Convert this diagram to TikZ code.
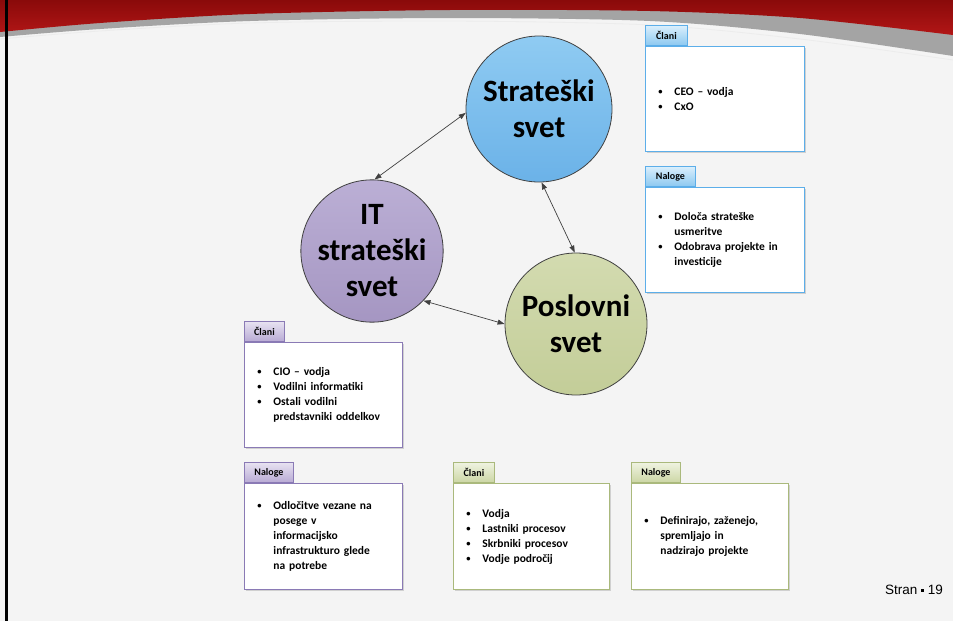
\documentclass[tikz,border=0pt]{standalone}
\usepackage{fontspec}
\setmainfont{Carlito}
\newfontfamily\arialfont{Liberation Sans}
\usetikzlibrary{shadows,arrows.meta}
\definecolor{bgc}{HTML}{F4F4F4}
\definecolor{redA}{HTML}{8A0A0A}
\definecolor{redB}{HTML}{B21616}
\definecolor{greyband}{HTML}{A4A4A4}
\definecolor{lineC}{HTML}{404040}
\definecolor{blueT}{HTML}{8FCBF2}
\definecolor{blueB}{HTML}{6BB2E8}
\definecolor{purT}{HTML}{BBAFD5}
\definecolor{purB}{HTML}{A596C2}
\definecolor{grnT}{HTML}{D3DBB0}
\definecolor{grnB}{HTML}{C3CD98}
\definecolor{blueTabT}{HTML}{DAEFFC}
\definecolor{blueTabB}{HTML}{8CC8F0}
\definecolor{blueLine}{HTML}{5CAEE9}
\definecolor{purTabT}{HTML}{E7E2F1}
\definecolor{purTabB}{HTML}{B8AAD4}
\definecolor{purLine}{HTML}{8A7AB5}
\definecolor{grnTabT}{HTML}{EFF3E0}
\definecolor{grnTabB}{HTML}{CCD6A4}
\definecolor{grnLine}{HTML}{AAB97C}
\newcommand\bl{\makebox[19pt][l]{\hspace*{3pt}\raisebox{0.8pt}{\fontsize{8.5}{8.5}\selectfont\textbullet}}}
\newcommand\ind{\hspace*{19pt}}
\begin{document}
\begin{tikzpicture}[x=1pt,y=-1pt,
  circ/.style={circle, draw=lineC, line width=0.8pt, inner sep=0pt, align=center,
    font=\fontsize{31}{36}\selectfont\bfseries},
  conn/.style={draw=lineC, line width=0.7pt,
    {Triangle[length=7pt,width=5pt]}-{Triangle[length=7pt,width=5pt]}},
  bodybox/.style={draw=#1, line width=0.9pt, fill=white, anchor=north west,
    text width=139pt, inner xsep=10pt, inner ysep=0pt, align=left,
    font=\fontsize{11.5}{15}\selectfont\bfseries,
    drop shadow={shadow xshift=1.2pt, shadow yshift=-1.2pt, opacity=0.3}},
  tabbox/.style n args={3}{draw=#1, line width=0.9pt, top color=#2, bottom color=#3,
    anchor=south west, minimum height=20pt, inner sep=0pt,
    font=\fontsize{10}{12}\selectfont\bfseries}
]
\useasboundingbox (0,0) rectangle (953,621);
\fill[bgc] (0,0) rectangle (953,621);
% header band
\fill[greyband] plot[smooth] coordinates {(0,37) (100,29) (250,21) (450,18) (650,21) (800,34) (953,56)} -- (953,0) -- (0,0) -- cycle;
\draw[white!85!gray, line width=0.8pt] plot[smooth] coordinates {(0,39) (100,31) (250,23) (450,21) (650,25) (800,39) (953,60)};
\shade[top color=redA, bottom color=redB] plot[smooth] coordinates {(0,32) (100,23) (250,14) (450,10) (650,11) (800,18) (953,35)} -- (953,0) -- (0,0) -- cycle;
\fill[black] (5,0) rectangle (8,621);

% circles
\node[circ, minimum size=146pt, top color=blueT, bottom color=blueB] (strat) at (539,109) {Strateški\\svet};
\node[circ, minimum size=139pt, top color=purT, bottom color=purB] (it) at (372,251) {IT\\strateški\\svet};
\node[circ, minimum size=142pt, top color=grnT, bottom color=grnB] (pos) at (576,324) {Poslovni\\svet};

% connectors
\draw[conn] (it.88) -- (strat.183);
\draw[conn] (strat.-88) -- (pos.91);
\draw[conn] (it.-44) -- (pos.180);

% blue boxes
\node[bodybox=blueLine, minimum height=105pt] (b1) at (645,46)
  {\bl CEO – vodja\\ \bl CxO};
\node[tabbox={blueLine}{blueTabT}{blueTabB}, minimum width=42pt] (t1) at (b1.north west) {Člani};
\node[bodybox=blueLine, minimum height=105pt] (b2) at (645,187)
  {\bl Določa strateške\\ \ind usmeritve\\ \bl Odobrava projekte in\\ \ind investicije};
\node[tabbox={blueLine}{blueTabT}{blueTabB}, minimum width=50pt] (t2) at (b2.north west) {Naloge};

% purple boxes
\node[bodybox=purLine, minimum height=105pt, text width=138pt] (b3) at (244,342)
  {\bl CIO – vodja\\ \bl Vodilni informatiki\\ \bl Ostali vodilni\\ \ind predstavniki oddelkov};
\node[tabbox={purLine}{purTabT}{purTabB}, minimum width=40pt] (t3) at (b3.north west) {Člani};
\node[bodybox=purLine, minimum height=106pt, text width=138pt] (b4) at (244,483)
  {\bl Odločitve vezane na\\ \ind posege v\\ \ind informacijsko\\ \ind infrastrukturo glede\\ \ind na potrebe};
\node[tabbox={purLine}{purTabT}{purTabB}, minimum width=49pt] (t4) at (b4.north west) {Naloge};

% green boxes
\node[bodybox=grnLine, minimum height=106pt, text width=136pt] (b5) at (453,483)
  {\bl Vodja\\ \bl Lastniki procesov\\ \bl Skrbniki procesov\\ \bl Vodje področij};
\node[tabbox={grnLine}{grnTabT}{grnTabB}, minimum width=41pt] (t5) at (b5.north west) {Člani};
\node[bodybox=grnLine, minimum height=106pt, text width=137pt] (b6) at (631,483)
  {\bl Definirajo, zaženejo,\\ \ind spremljajo in\\ \ind nadzirajo projekte};
\node[tabbox={grnLine}{grnTabT}{grnTabB}, minimum width=49pt] (t6) at (b6.north west) {Naloge};

% footer
\node[anchor=base east, inner sep=0pt, font=\arialfont\fontsize{13.5}{15}\selectfont] (pg) at (943,594)
  {Stran \raisebox{2.2pt}{\rule{3pt}{3pt}} 19};
\end{tikzpicture}
\end{document}
